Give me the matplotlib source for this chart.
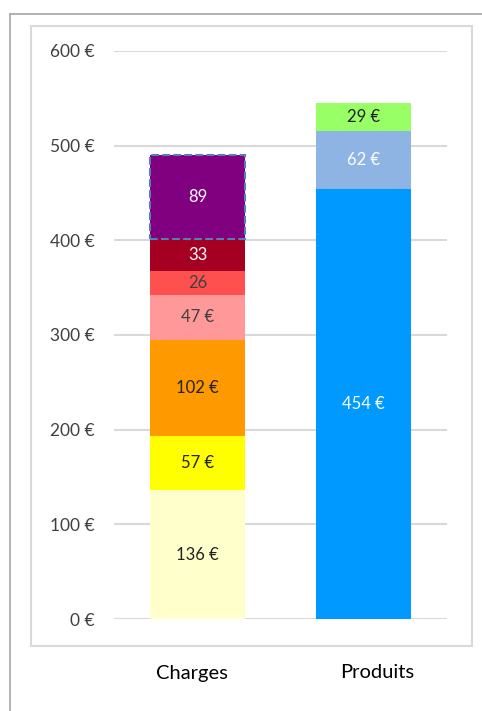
import matplotlib.pyplot as plt
from matplotlib.patches import Rectangle
from matplotlib.lines import Line2D

plt.rcParams['font.family'] = ['Lato', 'DejaVu Sans']

categories = ['Charges', 'Produits']
charges = [136, 57, 102, 47, 26, 33, 89]
charges_labels = ['136 €', '57 €', '102 €', '47 €', '26', '33', '89']
charges_colors = ['#FFFFCC', '#FFFF00', '#FF9900', '#FF9999', '#FF5050', '#A50021', '#800080']
charges_text = ['#222222', '#222222', '#222222', '#404040', '#404040', 'white', 'white']
produits = [454, 62, 29]
produits_labels = ['454 €', '62 €', '29 €']
produits_colors = ['#0099FF', '#8EB4E3', '#99FF66']
produits_text = ['white', 'white', '#222222']
yticks = [0, 100, 200, 300, 400, 500, 600]

W, H = 482, 711
fig = plt.figure(figsize=(W / 100, H / 100), dpi=100)

# cadres
fig.add_artist(Line2D([10 / W, 10 / W], [0, 1 - 14 / H], color='#A6A6A6', lw=1.2))
fig.add_artist(Line2D([10 / W, 1], [1 - 14 / H, 1 - 14 / H], color='#A6A6A6', lw=1.2))
fig.add_artist(Rectangle((31 / W, 1 - 646 / H), (472 - 31) / W, (646 - 26) / H,
                         fill=False, edgecolor='#D9D9D9', lw=1.5))

ax = fig.add_axes([114 / W, 1 - 619 / H, 333 / W, 568 / H])
width = 0.572

def stack(x, vals, labels, colors, tcolors, dashed_last=False):
    bottom = 0
    for i, (v, lab, c, tc) in enumerate(zip(vals, labels, colors, tcolors)):
        if dashed_last and i == len(vals) - 1:
            ax.bar(x, v, width, bottom=bottom, color=c, edgecolor='#4F81BD',
                   linestyle='--', linewidth=1.5, zorder=3)
        else:
            ax.bar(x, v, width, bottom=bottom, color=c, zorder=3)
        ax.text(x, bottom + v / 2, lab, ha='center', va='center', color=tc,
                fontsize=12, zorder=4)
        bottom += v

stack(0, charges, charges_labels, charges_colors, charges_text, dashed_last=True)
stack(1, produits, produits_labels, produits_colors, produits_text)

ax.set_xlim(-0.503, 1.503)
ax.set_ylim(0, 600)
ax.set_yticks(yticks)
ax.set_yticklabels([f'{t} €' for t in yticks], fontsize=12.5, color='#404040')
ax.set_xticks([])
ax.yaxis.grid(True, color='#D9D9D9', lw=1.5, zorder=0)
ax.tick_params(axis='y', length=0, pad=14)
for s in ax.spines.values():
    s.set_visible(False)

for x, cat in zip([192, 377], categories):
    fig.text(x / W, 1 - 673 / H, cat, ha='center', va='center', fontsize=14.5, color='black')

fig.savefig('out.png', dpi=100)
